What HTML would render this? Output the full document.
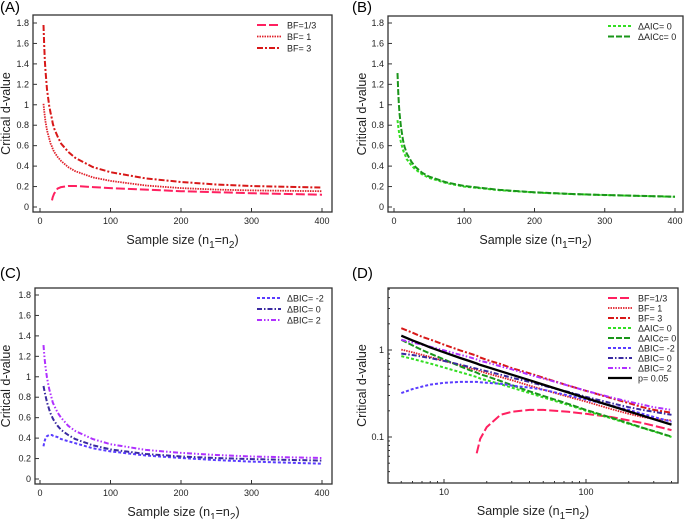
<!DOCTYPE html>
<html><head><meta charset="utf-8"><style>
html,body{margin:0;padding:0;background:#fff;}
svg{display:block;font-family:"Liberation Sans",sans-serif;}
</style></head><body>
<svg id="chart" width="685" height="519" viewBox="0 0 685 519"></svg>
<script>
const sampleSizes=[5,6,7,8,10,13,15,17,18,20,25,30,40,50,75,100,150,200,250,300,400];
const bfThird=[null,null,null,null,null,null,null,0.065,0.095,0.13,0.18,0.195,0.205,0.205,0.195,0.185,0.17,0.155,0.145,0.135,0.12];
const bfOne=[1.01,0.94,0.88,0.83,0.75,0.67,0.62,0.59,0.57,0.54,0.49,0.45,0.39,0.35,0.29,0.255,0.21,0.185,0.17,0.162,0.155];
const bfThree=[1.78,1.58,1.42,1.32,1.15,0.99,0.92,0.86,0.82,0.77,0.69,0.62,0.54,0.48,0.39,0.34,0.28,0.245,0.22,0.205,0.19];
const aic0=[0.85,0.79,0.74,0.70,0.63,0.555,0.52,0.49,0.47,0.45,0.405,0.37,0.32,0.285,0.233,0.2,0.164,0.142,0.127,0.116,0.1];
const aicc0=[1.31,1.13,1.0,0.91,0.78,0.65,0.59,0.55,0.525,0.5,0.44,0.395,0.335,0.297,0.24,0.205,0.167,0.144,0.128,0.117,0.101];
const bicM2=[0.32,0.355,0.38,0.40,0.42,0.43,0.43,0.43,0.425,0.42,0.41,0.39,0.37,0.35,0.3,0.27,0.23,0.205,0.185,0.17,0.15];
const bic0=[0.91,0.875,0.84,0.81,0.75,0.68,0.64,0.61,0.595,0.57,0.52,0.48,0.43,0.39,0.33,0.29,0.245,0.22,0.205,0.195,0.18];
const bic2=[1.31,1.22,1.15,1.09,0.99,0.88,0.83,0.78,0.75,0.72,0.65,0.6,0.52,0.47,0.39,0.34,0.285,0.255,0.235,0.22,0.205];
const p05=[1.46,1.29,1.17,1.07,0.94,0.81,0.75,0.70,0.675,0.64,0.57,0.52,0.45,0.40,0.325,0.28,0.228,0.197,0.176,0.160,0.139];
const linYTicks=[0,0.2,0.4,0.6,0.8,1,1.2,1.4,1.6,1.8];
const linXTicks=[0,100,200,300,400];
const logYTicks=[0.1,1];
const logXTicks=[10,100];

const S={
 bfThird:{vals:bfThird,label:"BF=1/3",color:"#ff2060",dash:"9,3",w:2},
 bfOne:{vals:bfOne,label:"BF= 1",color:"#e0202a",dash:"1.5,1",w:1.8},
 bfThree:{vals:bfThree,label:"BF= 3",color:"#d81818",dash:"6,2,2,2",w:2},
 aic0:{vals:aic0,label:"\u0394AIC= 0",color:"#33dd22",dash:"3,2",w:2},
 aicc0:{vals:aicc0,label:"\u0394AICc= 0",color:"#1a951a",dash:"6,2",w:2},
 bicM2:{vals:bicM2,label:"\u0394BIC= -2",color:"#5a3cff",dash:"3,2",w:2},
 bic0:{vals:bic0,label:"\u0394BIC= 0",color:"#3a2aa0",dash:"5,2,1.5,2",w:2},
 bic2:{vals:bic2,label:"\u0394BIC= 2",color:"#b030ff",dash:"5,2,1.5,2,1.5,2",w:2},
 p05:{vals:p05,label:"p= 0.05",color:"#000",dash:"",w:2.3}
};
const NS="http://www.w3.org/2000/svg";
const svg=document.getElementById('chart');
function mk(tag,attrs,parent,text){const e=document.createElementNS(NS,tag);for(const k in attrs)e.setAttribute(k,attrs[k]);if(text!==undefined)e.textContent=text;(parent||svg).appendChild(e);return e;}

function panel(cfg){
 const g=mk('g',{});
 
 
 const b=cfg.box;
 const lbl=mk('text',{x:cfg.labelPos[0],y:cfg.labelPos[1],'font-size':15},g,'('+cfg.id.toUpperCase()+')');
 
 
 const fr=mk('rect',{x:b.l,y:b.t,width:b.r-b.l,height:b.b-b.t,fill:'none',stroke:'#333','stroke-width':1.3},g);
 
 
 const xs=cfg.xs, ys=cfg.ys;
 cfg.xTicks.forEach(v=>{const x=xs(v);
  mk('line',{x1:x,x2:x,y1:b.b,y2:b.b-4,stroke:'#333'},g);
  const t=mk('text',{x:x,y:b.b+12,'font-size':9,'text-anchor':'middle',fill:'#222'},g,String(v));
  
  });
 cfg.yTicks.forEach(v=>{const y=ys(v);
  mk('line',{x1:b.l,x2:b.l+4,y1:y,y2:y,stroke:'#333'},g);
  const t=mk('text',{x:b.l-4,y:y+3,'font-size':9,'text-anchor':'end',fill:'#222'},g,String(v));
  
  });
 (cfg.minorX||[]).forEach(v=>{const x=xs(v);if(x>b.l&&x<b.r)mk('line',{x1:x,x2:x,y1:b.b,y2:b.b-2,stroke:'#333'},g);});
 (cfg.minorY||[]).forEach(v=>{const y=ys(v);if(y>b.t&&y<b.b)mk('line',{x1:b.l,x2:b.l+2,y1:y,y2:y,stroke:'#333'},g);});
 const xt=mk('text',{x:(b.l+b.r)/2,y:b.b+32,'font-size':12.5,'text-anchor':'middle',fill:'#222'},g);
 xt.innerHTML='Sample size (n<tspan dy="4" font-size="10">1</tspan><tspan dy="-4">=n</tspan><tspan dy="4" font-size="10">2</tspan><tspan dy="-4">)</tspan>';
 
 
 const yx=cfg.yTitleX, yy=(b.t+b.b)/2;
 const yt=mk('text',{x:yx,y:yy,'font-size':12.5,'text-anchor':'middle',fill:'#222',transform:`rotate(-90 ${yx} ${yy})`},g,'Critical d-value');
 
 
 cfg.series.forEach((key,i)=>{const s=S[key];let d='';let pen=false;
  sampleSizes.forEach((n,j)=>{const v=s.vals[j];if(v==null){pen=false;return;}
   d+=(pen?'L':'M')+xs(n).toFixed(1)+','+ys(v).toFixed(1);pen=true;});
  const p=mk('path',{d:d,fill:'none',stroke:s.color,'stroke-width':s.w,'stroke-dasharray':s.dash,'stroke-linejoin':'round'},g);
  
  
  const ly=cfg.legend[1]+i*cfg.legend[2];
  const lg=mk('g',{},g);
  
  
  mk('line',{x1:cfg.legend[0],x2:cfg.legend[0]+24,y1:ly,y2:ly,stroke:s.color,'stroke-width':s.w,'stroke-dasharray':s.dash},lg);
  mk('text',{x:cfg.legend[0]+30,y:ly+3.5,'font-size':9,fill:'#222'},lg,s.label);
 });
}
function linScale(d0,d1,r0,r1){return v=>r0+(v-d0)/(d1-d0)*(r1-r0);}
function logScale(d0,d1,r0,r1){return v=>r0+(Math.log10(v)-Math.log10(d0))/(Math.log10(d1)-Math.log10(d0))*(r1-r0);}
const minorLogX=[],minorLogY=[];
[1,10,100].forEach(m=>{for(let k=2;k<=9;k++)minorLogX.push(k*m);});
[0.01,0.1,1].forEach(m=>{for(let k=2;k<=9;k++)minorLogY.push(k*m);});

panel({id:'a',box:{l:33,r:332,t:15,b:212},labelPos:[0,12],xs:linScale(0,400,40,322),ys:linScale(0,1.8,207,23),
 xTicks:linXTicks,yTicks:linYTicks,yTitleX:10,series:['bfThird','bfOne','bfThree'],legend:[257,25,11.5]});
panel({id:'b',box:{l:388,r:683,t:16,b:212},labelPos:[352,12],xs:linScale(0,400,394,675),ys:linScale(0,1.8,207,23),
 xTicks:linXTicks,yTicks:linYTicks,yTitleX:366,series:['aic0','aicc0'],legend:[608,26,10.5]});
panel({id:'c',box:{l:35,r:332,t:288,b:484},labelPos:[0,278],xs:linScale(0,400,40,322),ys:linScale(0,1.8,479,295),
 xTicks:linXTicks,yTicks:linYTicks,yTitleX:10,series:['bicM2','bic0','bic2'],legend:[257,298,11]});
const lx=logScale(10,100,444,586), ly=logScale(0.1,1,437,350);
panel({id:'d',box:{l:388,r:678,t:288,b:483},labelPos:[352,278],xs:lx,ys:ly,
 xTicks:logXTicks,yTicks:logYTicks,minorX:minorLogX,minorY:minorLogY,yTitleX:366,
 series:['bfThird','bfOne','bfThree','aic0','aicc0','bicM2','bic0','bic2','p05'],legend:[608,298,10]});
</script>
</body></html>
